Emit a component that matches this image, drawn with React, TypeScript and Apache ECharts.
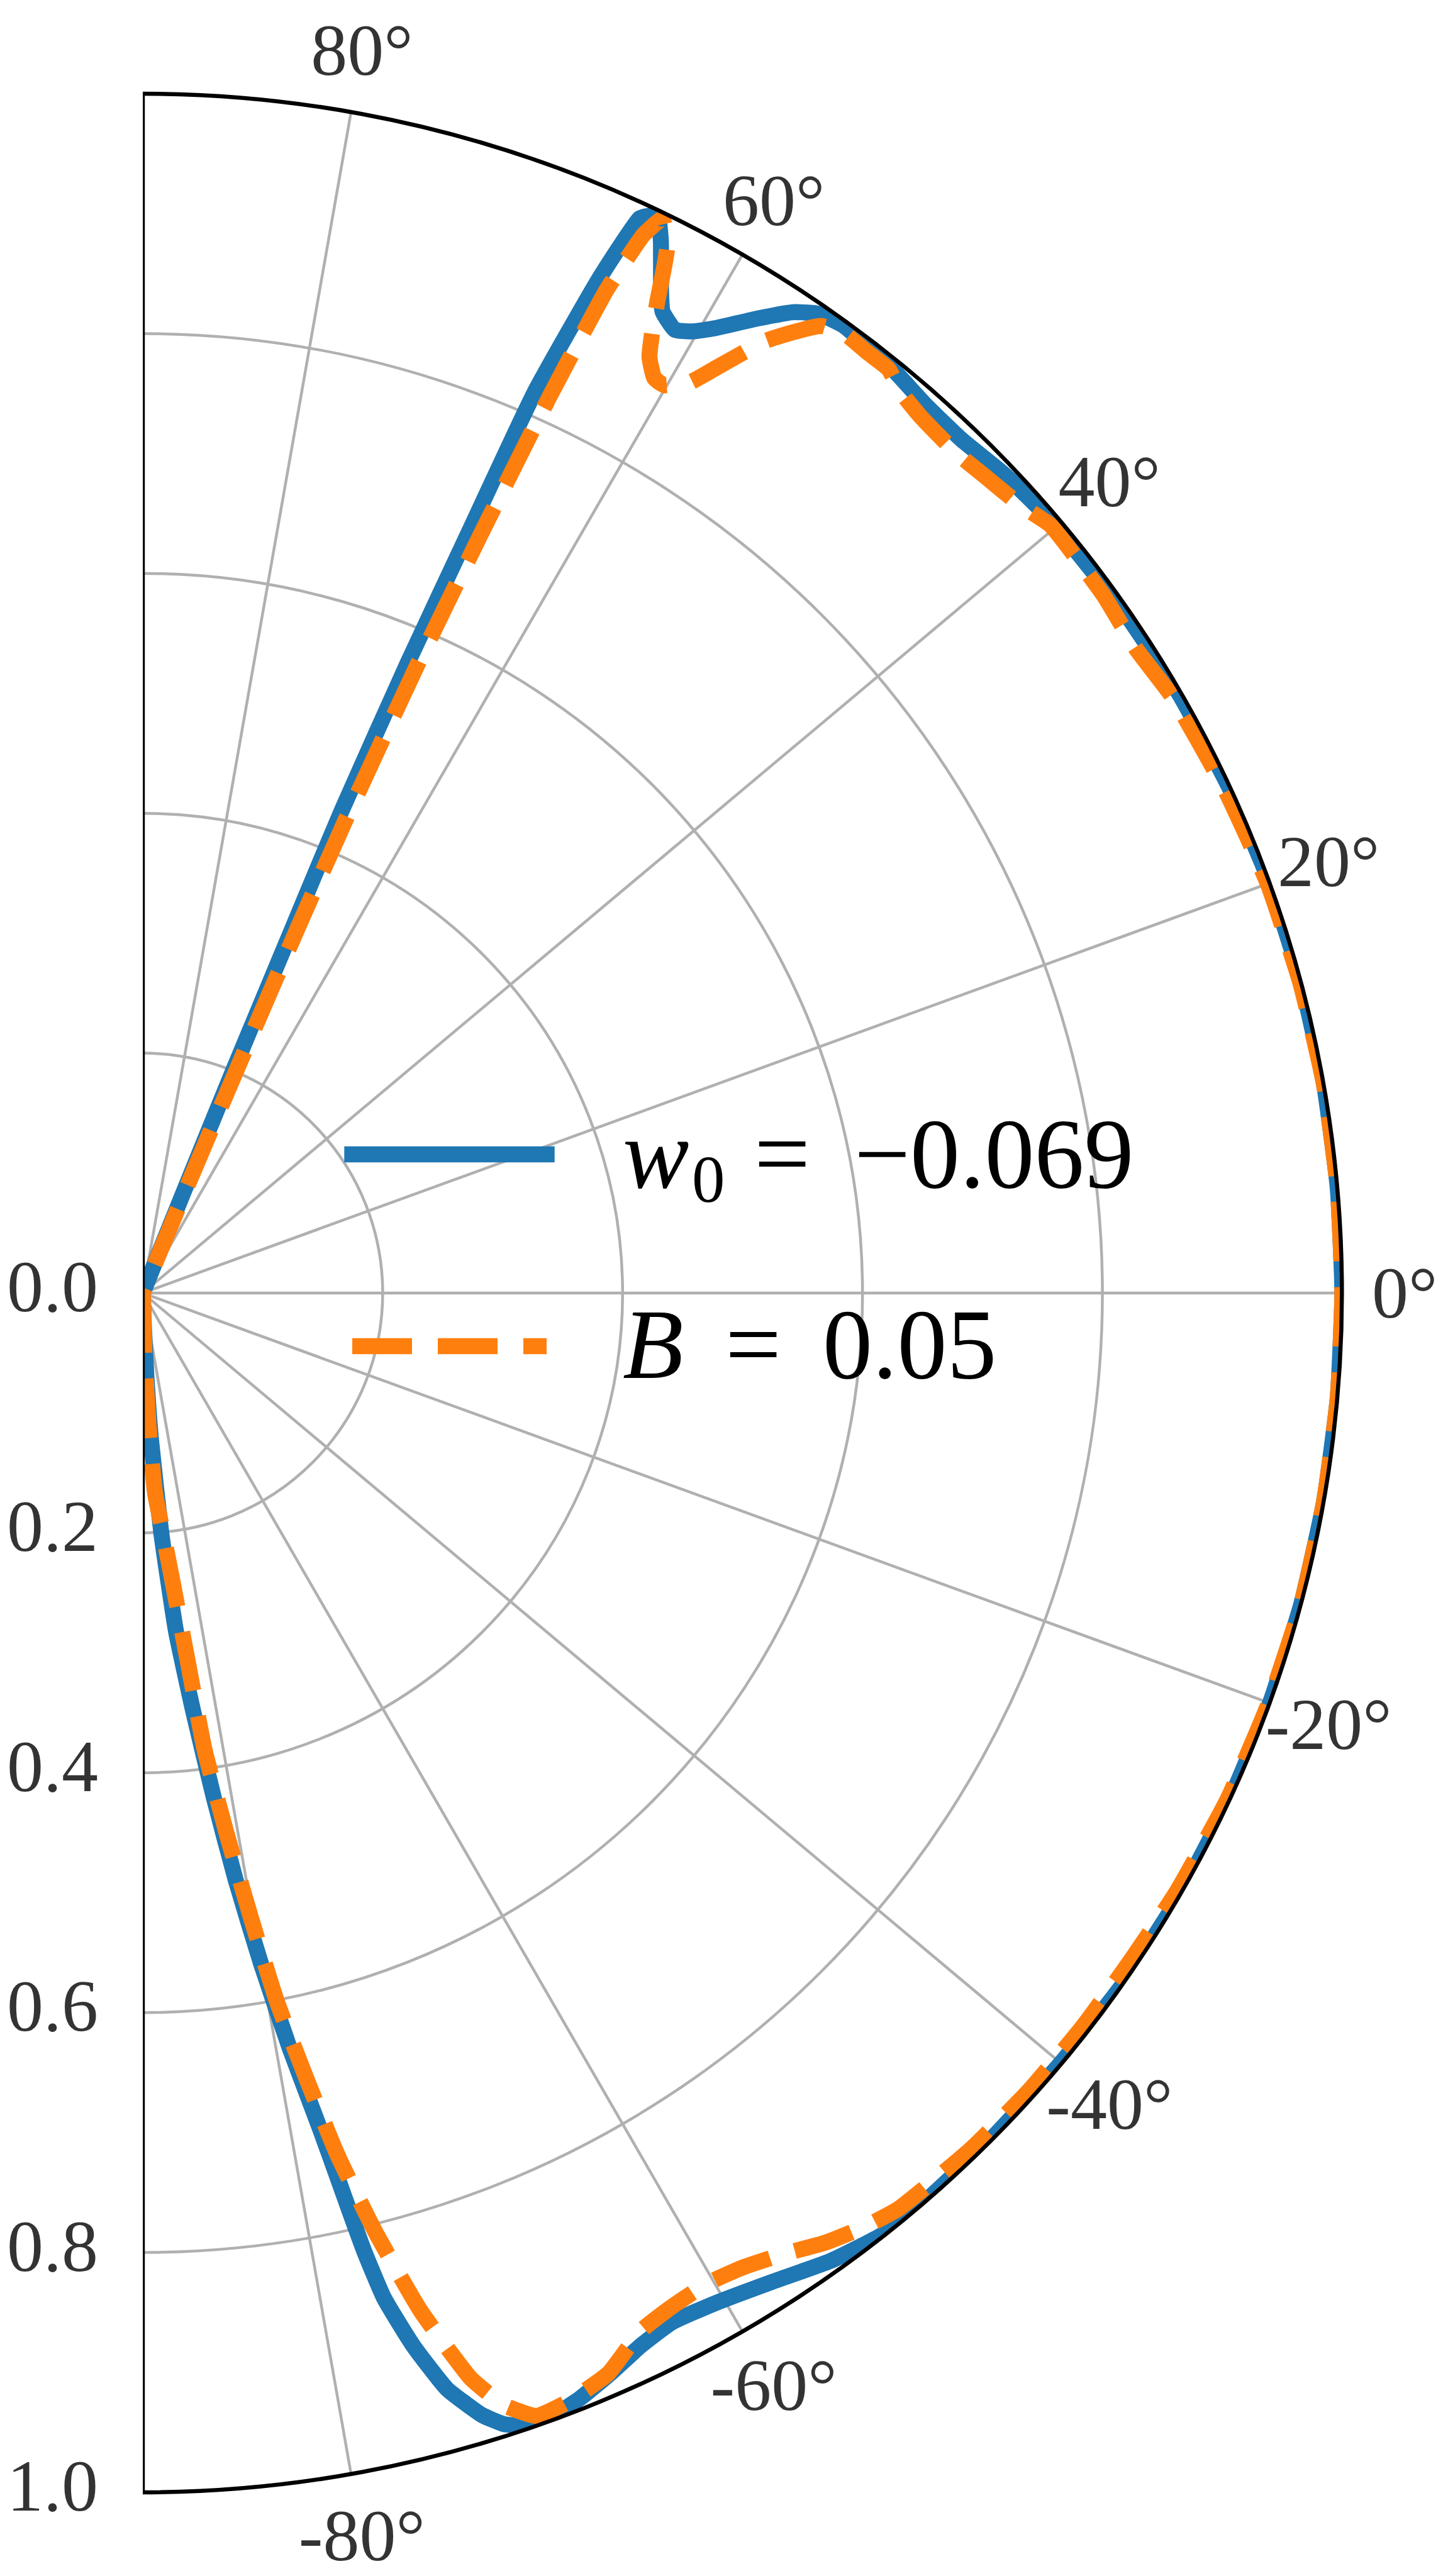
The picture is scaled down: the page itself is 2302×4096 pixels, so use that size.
import React, { useEffect, useRef } from 'react';
import * as echarts from 'echarts';

// [theta (deg), r]
const blueCurve: number[][] = [
  [-90, 0], [-88, 0.03], [-87.5, 0.07], [-86.8, 0.122], [-85.6, 0.2], [-84.4, 0.283],
  [-83.1, 0.353], [-82.0, 0.424], [-81.0, 0.496], [-80.0, 0.568], [-79.0, 0.641],
  [-78.0, 0.715], [-77.4, 0.775], [-77.0, 0.819], [-76.5, 0.862], [-75.6, 0.906],
  [-74.5, 0.948], [-73.2, 0.977], [-72.3, 0.99], [-71.5, 0.996], [-70.0, 0.997],
  [-68.4, 0.991], [-66.5, 0.981], [-64.7, 0.971], [-62.8, 0.965], [-60.5, 0.968],
  [-57.6, 0.977], [-54.6, 0.99], [-52.0, 0.998], [-50, 1.0], [-45, 0.999], [-40, 0.999],
  [-35, 1], [-30, 1], [-25, 1], [-20, 1], [-15, 1], [-10, 1], [-5, 1], [0, 1], [5, 1],
  [10, 1], [15, 1], [20, 1], [25, 0.999], [30, 0.998], [35, 0.996], [40.4, 0.994],
  [43.4, 0.991], [46.2, 0.986], [48.6, 0.987], [50.9, 0.992], [52.5, 0.994], [54.1, 0.996],
  [55.4, 0.992], [56.4, 0.982], [57.8, 0.96], [59.35, 0.935], [60.3, 0.923], [61.1, 0.9175],
  [62.1, 0.926], [62.7, 0.942], [63.7, 0.975], [64.5, 0.996], [65.2, 0.987], [65.8, 0.925],
  [66.5, 0.818], [66.8, 0.694], [67.2, 0.57], [67.6, 0.434], [67.7, 0.327], [67.9, 0.2],
  [68.0, 0.1], [68.2, 0], [90, 0]
];

const orangeCurve: number[][] = [
  [-90, 0], [-88.5, 0.05], [-87.5, 0.11], [-86.5, 0.167], [-85.2, 0.2], [-84.1, 0.2425],
  [-83.0, 0.313], [-82.3, 0.384], [-81.2, 0.455], [-80.2, 0.527], [-79.3, 0.6],
  [-78.25, 0.668], [-77.27, 0.737], [-76.1, 0.806], [-74.75, 0.879], [-73.2, 0.945],
  [-72.0, 0.975], [-70.7, 0.992], [-69.0, 0.99], [-66.7, 0.981], [-64.4, 0.96],
  [-62.7, 0.954], [-61.0, 0.951], [-59.9, 0.951], [-58.4, 0.954], [-56.3, 0.963],
  [-54.3, 0.975], [-52.3, 0.984], [-50.4, 0.99], [-46, 0.993], [-42, 0.994], [-38, 0.994],
  [-34, 0.994], [-30, 0.996], [-25, 0.998], [-20, 0.999], [-15, 1], [-10, 1], [-5, 1],
  [0, 1], [5, 1], [10, 1], [15, 0.999], [20, 0.998], [25, 0.995], [30, 0.992], [33, 0.987],
  [36, 0.99], [39, 0.991], [40.3, 0.991], [42, 0.983], [44.2, 0.978], [46, 0.975],
  [48.4, 0.977], [50, 0.982], [51.1, 0.99], [52.4, 0.99], [53.7, 0.991], [54.95, 0.985],
  [56.8, 0.949], [58.2, 0.908], [59.0, 0.886], [60.1, 0.873], [60.8, 0.874], [61.6, 0.888],
  [62.1, 0.908], [62.55, 0.93], [63.4, 0.9765], [64.2, 0.995], [64.7, 0.975], [65.2, 0.92],
  [65.6, 0.82], [66.0, 0.69], [66.4, 0.57], [66.8, 0.43], [67.0, 0.33], [67.2, 0.2],
  [67.4, 0.1], [67.6, 0], [90, 0]
];

const angleTicks = [-80, -60, -40, -20, 0, 20, 40, 60, 80];
const radiusTicks = [0, 0.2, 0.4, 0.6, 0.8, 1.0];
const angleLabelRadius = 1.052;
const legendBlue = { sym: 'w', sub: '0', rest: '=', value: '\u22120.069' };
const legendOrange = { sym: 'B', rest: '=', value: '0.05' };

const FONT = "'Liberation Serif', 'Times New Roman', 'DejaVu Serif', serif";
const BLUE = '#1f77b4';
const ORANGE = '#ff7f0e';
const GRID = '#b0b0b0';

const CX = 227;
const CY = 2056;
const R = 1907;
const LW = 25.4;
const TICK_FS = 116;

function buildOption() {
  const toPolar = (pts: number[][]) => pts.map((p) => [p[1], p[0]]);

  const gridSeries = angleTicks.map((a) => ({
    type: 'line',
    coordinateSystem: 'polar',
    data: [[0, a], [1, a]],
    symbol: 'none',
    silent: true,
    clip: false,
    lineStyle: { color: GRID, width: 4.5 },
    z: 1
  }));

  const fs = 158;
  const central = 0.3375;
  const baseW = 1888;
  const baseB = 2190.6;
  const textStyle = (text: string, size: number, italic?: boolean) => ({
    text,
    font: `${italic ? 'italic ' : ''}${size}px ${FONT}`,
    fill: '#000',
    align: 'left',
    verticalAlign: 'middle'
  });

  return {
    animation: false,
    backgroundColor: '#ffffff',
    textStyle: { fontFamily: FONT, color: '#000' },
    polar: { center: [CX, CY], radius: R },
    angleAxis: {
      type: 'value',
      min: -90,
      max: 90,
      startAngle: -90,
      endAngle: 90,
      clockwise: false,
      z: 10,
      axisLine: { show: true, lineStyle: { color: '#000', width: 6.5 } },
      axisTick: { show: false },
      axisLabel: { show: false },
      splitLine: { show: false }
    },
    radiusAxis: {
      type: 'value',
      min: 0,
      max: 1,
      interval: 0.2,
      z: 0,
      axisLine: { show: false },
      axisTick: { show: false },
      axisLabel: { show: false },
      splitLine: { show: true, lineStyle: { color: GRID, width: 4.5 } }
    },
    series: [
      ...gridSeries,
      {
        type: 'line',
        coordinateSystem: 'polar',
        data: toPolar(blueCurve),
        symbol: 'none',
        silent: true,
        smooth: 0.15,
        lineStyle: { color: BLUE, width: LW, join: 'round', cap: 'butt' },
        z: 3
      },
      {
        type: 'line',
        coordinateSystem: 'polar',
        data: toPolar(orangeCurve),
        symbol: 'none',
        silent: true,
        smooth: 0.15,
        lineStyle: { color: ORANGE, width: LW, type: [95, 41], join: 'round', cap: 'butt' },
        z: 4
      },
      {
        type: 'line',
        coordinateSystem: 'polar',
        data: [[1, 90], [0, 0], [1, -90]],
        symbol: 'none',
        silent: true,
        clip: false,
        lineStyle: { color: '#000', width: 6.5, cap: 'square' },
        z: 10
      },
      {
        type: 'scatter',
        coordinateSystem: 'polar',
        data: angleTicks.map((a) => [angleLabelRadius, a]),
        symbolSize: 0,
        clip: false,
        silent: true,
        itemStyle: { color: 'transparent' },
        label: {
          show: true,
          position: 'inside',
          formatter: (p: any) => `${p.value[1]}°`,
          fontSize: TICK_FS,
          fontFamily: FONT,
          color: '#000',
          textBorderWidth: 0
        },
        z: 11
      },
      {
        type: 'scatter',
        coordinateSystem: 'polar',
        data: radiusTicks.map((r) => [r, -90]),
        symbolSize: 0,
        clip: false,
        silent: true,
        itemStyle: { color: 'transparent' },
        label: {
          show: true,
          position: 'left',
          distance: 71,
          offset: [0, -10],
          formatter: (p: any) => Number(p.value[0]).toFixed(1),
          fontSize: TICK_FS,
          fontFamily: FONT,
          color: '#000'
        },
        z: 11
      }
    ],
    graphic: [
      {
        type: 'line',
        z: 20,
        shape: { x1: 560, y1: 1835.5, x2: 869, y2: 1835.5 },
        style: { stroke: BLUE, lineWidth: LW, lineCap: 'square' }
      },
      {
        type: 'line',
        z: 20,
        shape: { x1: 560, y1: 2140.5, x2: 869, y2: 2140.5 },
        style: { stroke: ORANGE, lineWidth: LW, lineDash: [95, 41], lineCap: 'butt' }
      },
      { type: 'text', z: 20, x: 990, y: baseW - central * fs, style: textStyle(legendBlue.sym, fs, true) },
      { type: 'text', z: 20, x: 1100, y: 1911 - central * 105, style: textStyle(legendBlue.sub, 105) },
      { type: 'text', z: 20, x: 1199, y: baseW - central * fs, style: textStyle(legendBlue.rest, fs) },
      { type: 'text', z: 20, x: 1358, y: baseW - central * fs, style: textStyle(legendBlue.value, fs) },
      { type: 'text', z: 20, x: 990, y: baseB - central * fs, style: textStyle(legendOrange.sym, fs, true) },
      { type: 'text', z: 20, x: 1153, y: baseB - central * fs, style: textStyle(legendOrange.rest, fs) },
      { type: 'text', z: 20, x: 1308, y: baseB - central * fs, style: textStyle(legendOrange.value, fs) }
    ]
  };
}

export default function App() {
  const ref = useRef<HTMLDivElement>(null);
  useEffect(() => {
    if (!ref.current) return;
    const chart = echarts.init(ref.current, null, { renderer: 'svg' });
    chart.setOption(buildOption() as any);
    return () => chart.dispose();
  }, []);
  return (
    <div
      ref={ref}
      style={{ position: 'absolute', left: 0, top: 0, width: 2302, height: 4096, background: '#fff' }}
    />
  );
}
